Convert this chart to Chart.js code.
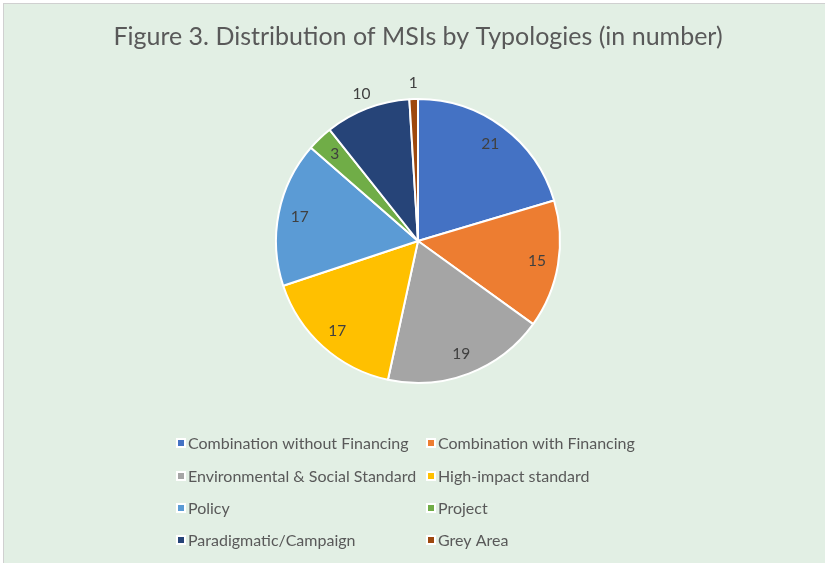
<!DOCTYPE html>
<html>
<head>
<meta charset="utf-8">
<script src="https://cdn.jsdelivr.net/npm/chart.js@4.4.1/dist/chart.umd.min.js"></script>
<style>
  html, body { margin: 0; padding: 0; background: #ffffff; }
  #wrap { position: absolute; left: 3px; top: 3px; width: 822px; height: 560px; background: #e2efe4; border-left: 1px solid #d0d0d0; border-top: 1px solid #d0d0d0; box-sizing: border-box; }
  canvas { position: absolute; left: 0; top: 0; }
</style>
</head>
<body>
<div id="wrap"><canvas id="c" width="821" height="559"></canvas></div>
<script>
const title = "Figure 3. Distribution of MSIs by Typologies (in number)";
const categories = [
  "Combination without Financing",
  "Combination with Financing",
  "Environmental & Social Standard",
  "High-impact standard",
  "Policy",
  "Project",
  "Paradigmatic/Campaign",
  "Grey Area"
];
const values = [21, 15, 19, 17, 17, 3, 10, 1];
const colors = ["#4472c4", "#ed7d31", "#a5a5a5", "#ffc000", "#5b9bd5", "#70ad47", "#264478", "#9e480e"];
const outsideLabels = [6, 7];

const FONT = "Lato, 'Open Sans', sans-serif";
const OX = 4, OY = 4;
const CX = 418 - OX, CY = 241 - OY, R = 143;

const drawPlugin = {
  id: 'custom',
  afterDraw(chart) {
    const ctx = chart.ctx;
    ctx.save();
    ctx.fillStyle = '#595959';
    ctx.font = `25px ${FONT}`;
    ctx.textAlign = 'center';
    ctx.textBaseline = 'middle';
    ctx.fillText(title, 418 - OX, 37 - OY);
    const meta = chart.getDatasetMeta(0);
    ctx.font = `15.5px ${FONT}`;
    ctx.fillStyle = '#404040';
    meta.data.forEach((arc, i) => {
      const mid = (arc.startAngle + arc.endAngle) / 2;
      const d = outsideLabels.includes(i) ? arc.outerRadius * 1.11 : arc.outerRadius * 0.85;
      ctx.fillText(String(values[i]), arc.x + Math.cos(mid) * d, arc.y + Math.sin(mid) * d);
    });
    ctx.font = `16px ${FONT}`;
    ctx.textAlign = 'left';
    const colX = [177 - OX, 427 - OX];
    const rowY = [443, 476, 508, 540];
    categories.forEach((c, i) => {
      const x = colX[i % 2], y = rowY[Math.floor(i / 2)] - OY;
      ctx.fillStyle = '#ffffff';
      ctx.fillRect(x - 1, y - 5, 10, 10);
      ctx.fillStyle = colors[i];
      ctx.fillRect(x + 1, y - 3, 6, 6);
      ctx.fillStyle = '#595959';
      ctx.fillText(c, x + 11, y + 1);
    });
    ctx.restore();
  }
};

new Chart(document.getElementById('c'), {
  type: 'pie',
  data: {
    labels: categories,
    datasets: [{
      data: values,
      backgroundColor: colors,
      borderColor: '#ffffff',
      borderWidth: 2
    }]
  },
  options: {
    responsive: false,
    animation: false,
    layout: {
      padding: { left: CX - R, top: CY - R, right: 821 - CX - R, bottom: 559 - CY - R }
    },
    plugins: {
      legend: { display: false },
      title: { display: false },
      tooltip: { enabled: false }
    }
  },
  plugins: [drawPlugin]
});
</script>
</body>
</html>
